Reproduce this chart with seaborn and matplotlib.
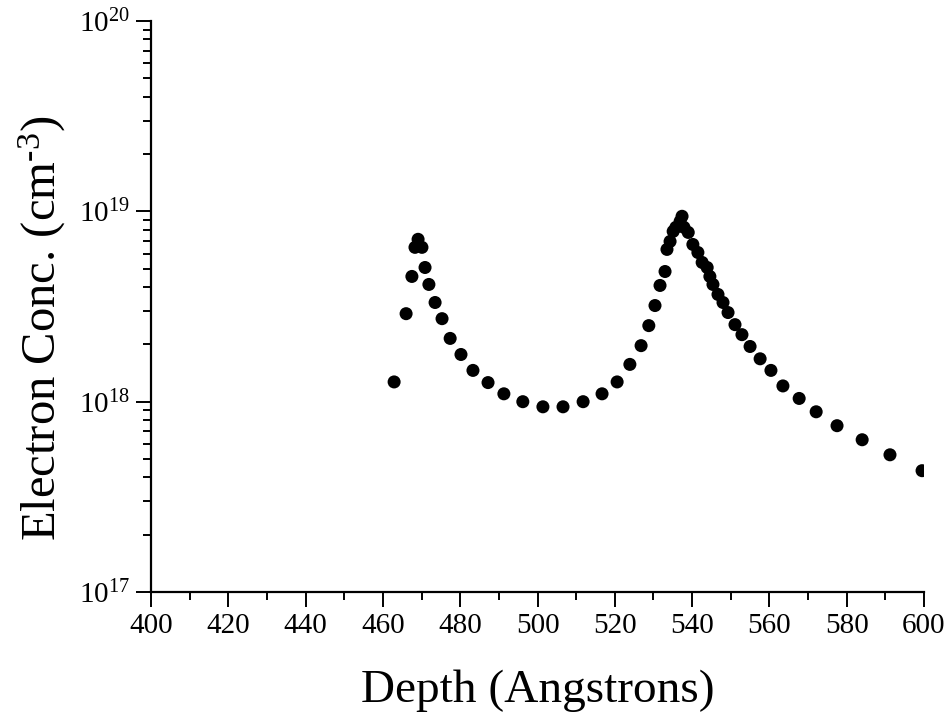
import numpy as np
import pandas as pd
import matplotlib
matplotlib.use("Agg")
import matplotlib.pyplot as plt
import seaborn as sns
from matplotlib.ticker import MultipleLocator, LogLocator

# depth profile values
depth = [462.9, 466.0, 467.5, 468.3, 469.1, 470.1, 470.9, 471.9, 473.5, 475.3,
         477.4, 480.2, 483.3, 487.2, 491.3, 496.2, 501.4, 506.6, 511.8, 516.7,
         520.6, 523.9, 526.8, 528.8, 530.4, 531.7, 533.0, 533.5, 534.3, 535.1,
         535.8, 536.9, 537.4, 537.9, 539.0, 540.2, 541.5, 542.6, 543.9, 544.6,
         545.4, 546.7, 548.0, 549.3, 551.1, 552.9, 555.0, 557.6, 560.4, 563.5,
         567.7, 572.1, 577.5, 584.0, 591.2, 599.5]
conc = [1.27e18, 2.90e18, 4.55e18, 6.47e18, 7.13e18, 6.47e18, 5.07e18, 4.13e18, 3.32e18, 2.73e18,
        2.15e18, 1.77e18, 1.46e18, 1.26e18, 1.10e18, 1.00e18, 0.94e18, 0.94e18, 1.00e18, 1.10e18,
        1.27e18, 1.57e18, 1.97e18, 2.51e18, 3.20e18, 4.08e18, 4.83e18, 6.31e18, 6.95e18, 7.85e18,
        8.24e18, 8.86e18, 9.42e18, 8.24e18, 7.75e18, 6.70e18, 6.08e18, 5.39e18, 5.07e18, 4.55e18,
        4.13e18, 3.66e18, 3.32e18, 2.94e18, 2.54e18, 2.25e18, 1.95e18, 1.68e18, 1.46e18, 1.21e18,
        1.04e18, 0.885e18, 0.748e18, 0.631e18, 0.526e18, 0.434e18]

df = pd.DataFrame({"Depth": depth, "Conc": conc})

sns.set_style("ticks")
plt.rcParams['font.family'] = ['Liberation Serif', 'DejaVu Serif']
plt.rcParams['mathtext.fontset'] = 'custom'
plt.rcParams['mathtext.rm'] = 'Liberation Serif'
plt.rcParams['mathtext.it'] = 'Liberation Serif:italic'
for key in ['text.color', 'axes.labelcolor', 'xtick.color', 'ytick.color', 'axes.edgecolor']:
    plt.rcParams[key] = 'black'

fig = plt.figure(figsize=(9.51, 7.15), dpi=100)
ax = fig.add_axes([0.1588, 0.172, 0.8128, 0.7986])

sns.scatterplot(data=df, x="Depth", y="Conc", ax=ax, color="black",
                s=88, edgecolor="none", legend=False)

ax.set_yscale("log")
ax.set_xlim(400, 600)
ax.set_ylim(1e17, 1e20)
ax.xaxis.set_major_locator(MultipleLocator(20))
ax.xaxis.set_minor_locator(MultipleLocator(10))
ax.yaxis.set_major_locator(LogLocator(base=10, numticks=10))
ax.yaxis.set_minor_locator(LogLocator(base=10, subs=np.arange(2, 10), numticks=20))

ax.tick_params(axis="both", which="major", direction="out", length=11, width=1.4,
               labelsize=21, pad=4)
ax.tick_params(axis="both", which="minor", direction="out", length=6, width=1.4)
for sp in ["left", "bottom"]:
    ax.spines[sp].set_linewidth(1.6)
sns.despine(ax=ax)

ax.set_xlabel("Depth (Angstrons)", fontsize=34, labelpad=22)
ax.set_ylabel(r"Electron Conc. (cm$^{\text{-3}}$)", fontsize=35)
ax.yaxis.set_label_coords(-0.107, 0.462)

fig.savefig("out.png", dpi=100)
